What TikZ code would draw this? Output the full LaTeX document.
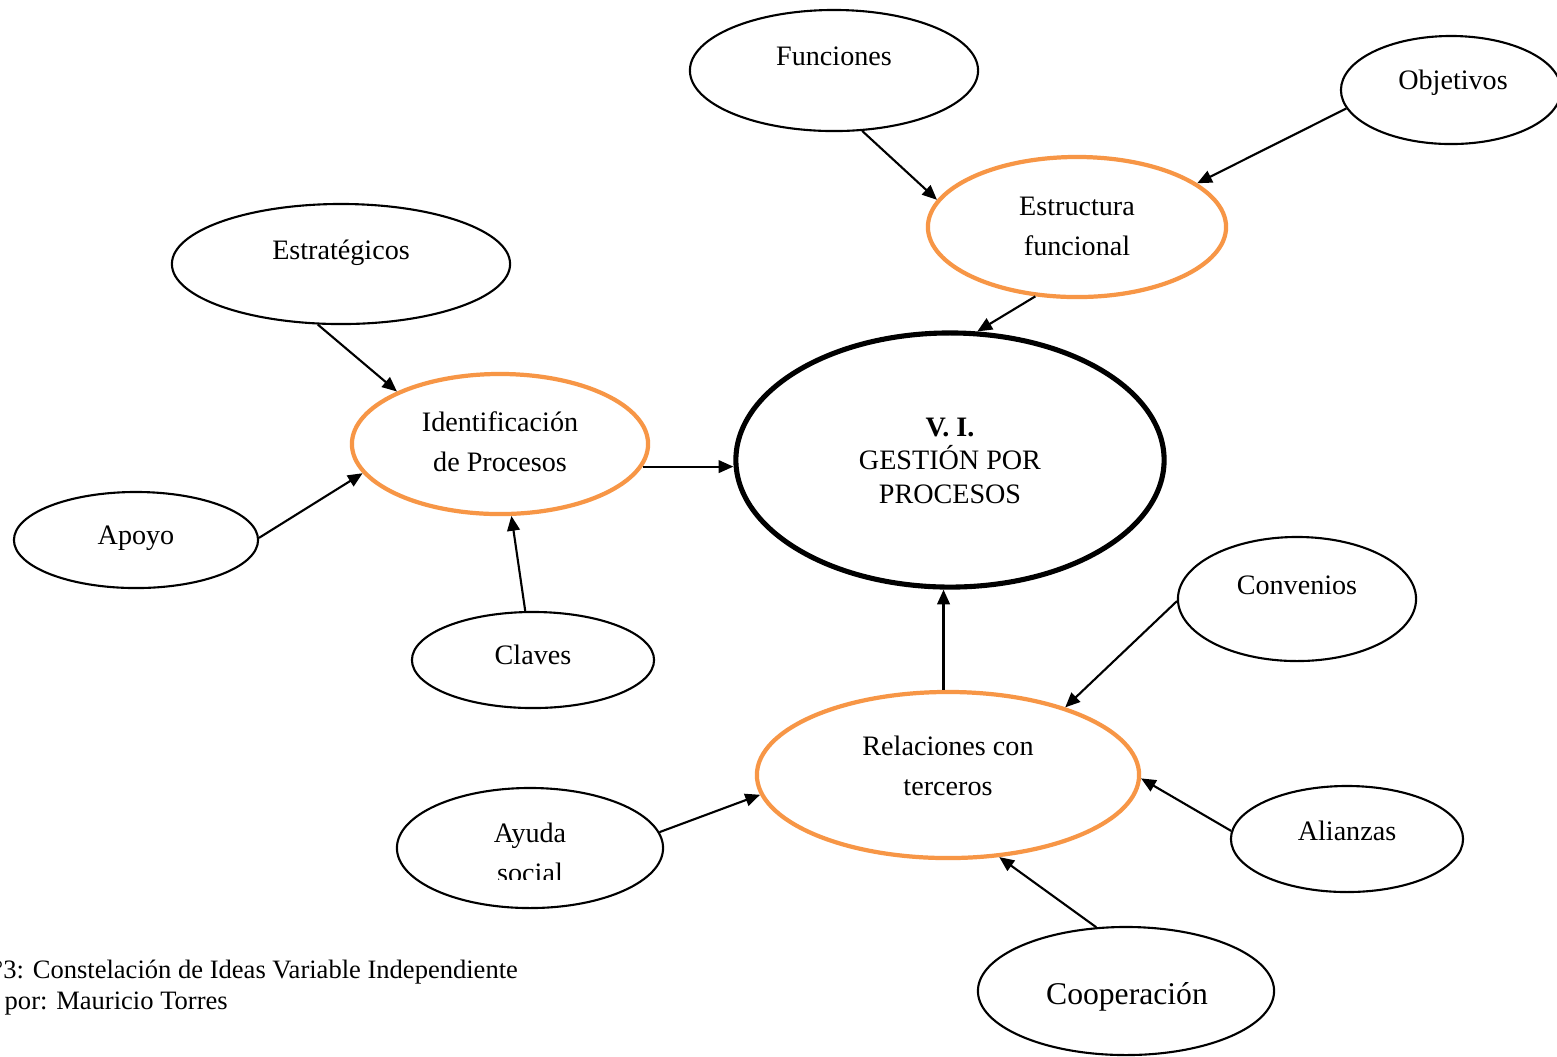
\documentclass[tikz,border=0pt]{standalone}
\usepackage{fontspec}
\setmainfont{Liberation Serif}
\usetikzlibrary{shapes.geometric,arrows.meta}
\definecolor{accent}{RGB}{247,150,70}
\begin{document}
\begin{tikzpicture}[x=0.01cm,y=-0.01cm,
  oval/.style={ellipse,draw=black,line width=0.6pt,inner sep=0pt},
  keyoval/.style={ellipse,draw=accent,line width=1.2pt,inner sep=0pt},
  mainoval/.style={ellipse,draw=black,line width=1.45pt,inner sep=0pt},
  lbl/.style={anchor=base,inner sep=0pt,align=center,font=\fontsize{8}{11.1}\selectfont},
  mainlbl/.style={anchor=base,inner sep=0pt,align=center,font=\fontsize{8}{9.4}\selectfont},
  caption/.style={anchor=base west,inner sep=0pt,font=\fontsize{7.55}{9}\selectfont},
  link/.style={line width=0.6pt,-{Triangle[length=4.2pt,width=3.6pt]}}]
\clip (0,0) rectangle (1557,1056);
\fill[white] (0,0) rectangle (1557,1056);

% ellipses
\node[oval,minimum width=2.88cm,minimum height=1.21cm] (fun) at (834,70.5) {};
\node[oval,minimum width=2.20cm,minimum height=1.08cm] (obj) at (1451,90) {};
\node[keyoval,minimum width=2.98cm,minimum height=1.40cm] (est) at (1077,227) {};
\node[oval,minimum width=3.38cm,minimum height=1.20cm] (estr) at (341,264) {};
\node[keyoval,minimum width=2.96cm,minimum height=1.40cm] (ide) at (500,444) {};
\node[mainoval,minimum width=4.28cm,minimum height=2.54cm] (cen) at (950,460) {};
\node[oval,minimum width=2.44cm,minimum height=0.96cm] (apo) at (136,540) {};
\node[oval,minimum width=2.42cm,minimum height=0.96cm] (cla) at (533,660) {};
\node[oval,minimum width=2.38cm,minimum height=1.24cm] (con) at (1297,599) {};
\node[keyoval,minimum width=3.82cm,minimum height=1.66cm] (rel) at (948,775) {};
\node[oval,minimum width=2.66cm,minimum height=1.20cm] (ayu) at (530,848) {};
\node[oval,minimum width=2.32cm,minimum height=1.06cm] (ali) at (1347,839) {};
\node[oval,minimum width=2.96cm,minimum height=1.28cm] (coo) at (1126,991) {};

% labels (base anchor sits on the last line's baseline)
\node[lbl] (tfun) at (834,65) {Funciones};
\node[lbl] (tobj) at (1453,89) {Objetivos};
\node[lbl] (test) at (1077,255) {Estructura\\funcional};
\node[lbl] (testr) at (341,259) {Estratégicos};
\node[lbl] (tide) at (500,471) {Identificación\\de Procesos};
\node[mainlbl] (tcen) at (950,503) {\textbf{V. I.}\\GESTIÓN POR\\PROCESOS};
\node[lbl] (tapo) at (136,544) {Apoyo};
\node[lbl] (tcla) at (533,664) {Claves};
\node[lbl] (tcon) at (1297,594) {Convenios};
\node[lbl] (trel) at (948,795) {Relaciones con\\terceros};
\begin{scope}
  \clip (397,788) rectangle (664,879);
  \node[lbl] (tayu) at (530,882) {Ayuda\\social};
\end{scope}
\node[lbl] (tali) at (1347,840) {Alianzas};
\node[lbl,font=\fontsize{9}{11}\selectfont] (tcoo) at (1127,1004) {Cooperación};

% connectors
\draw[link] (fun.295) -- (est.169);
\draw[link] (obj.190) -- (est.20);
\draw[link] (est.239) -- (cen.78);
\draw[link] (estr.249) -- (ide.153);
\draw[link] (apo.1) -- (ide.192);
\draw[link] (cla.99) -- (ide.279);
\draw[link] (ide.-9) -- (ide.-9 -| cen.west);
\draw[link] (rel.93) -- (rel.93 |- cen.south);
\draw[link] (con.181) -- (rel.30);
\draw[link] (ayu.7) -- (rel.186);
\draw[link] (ali.176) -- (rel.359);
\draw[link] (coo.115) -- (rel.302);

% caption
\node[caption] (cap1) at (-8,978) {°3: Constelación de Ideas Variable Independiente};
\node[caption] (cap2) at (4,1009) {por: Mauricio Torres};
\end{tikzpicture}
\end{document}
